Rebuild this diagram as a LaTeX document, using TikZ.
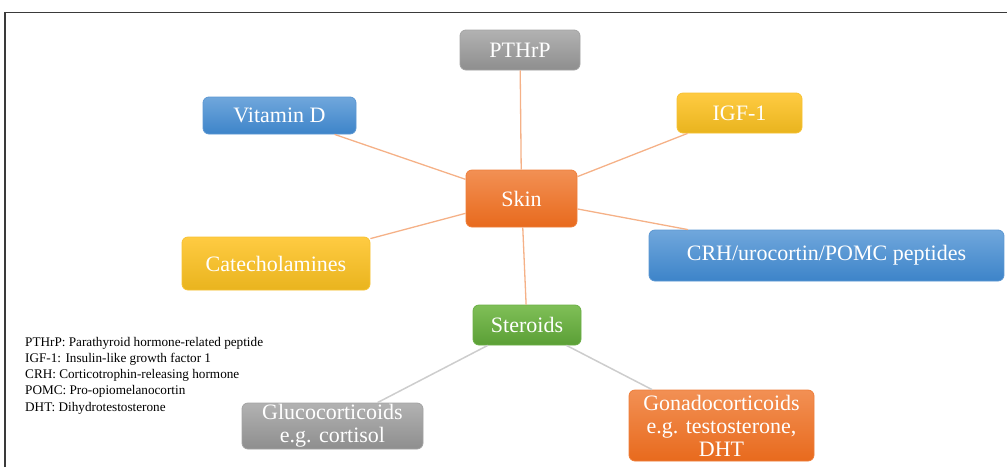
\documentclass[tikz,border=0pt]{standalone}
\usepackage{fontspec}
\setmainfont{Liberation Serif}
\newfontfamily\tnr{Liberation Serif}
\definecolor{blueT}{HTML}{70A7DC}
\definecolor{blueB}{HTML}{3D84C9}
\definecolor{blueD}{HTML}{5C97D2}
\definecolor{orangeT}{HTML}{F29054}
\definecolor{orangeB}{HTML}{E86A1D}
\definecolor{orangeD}{HTML}{EE7E3A}
\definecolor{yellowT}{HTML}{FFCB42}
\definecolor{yellowB}{HTML}{E9B41E}
\definecolor{yellowD}{HTML}{F7C233}
\definecolor{grayT}{HTML}{B2B2B2}
\definecolor{grayB}{HTML}{8E8E8E}
\definecolor{grayD}{HTML}{A3A3A3}
\definecolor{greenT}{HTML}{7FBF57}
\definecolor{greenB}{HTML}{5B9F36}
\definecolor{greenD}{HTML}{6BAF45}
\definecolor{lineO}{HTML}{F5B187}
\definecolor{lineG}{HTML}{CDCDCD}
\definecolor{frameC}{HTML}{3A3A3A}
\tikzset{
  box/.style={rounded corners=6pt, line width=0.8pt, text=white, inner sep=0pt, align=center,
    font=\tnr\fontsize{22}{23}\selectfont},
  bluebox/.style={box, draw=blueD, top color=blueT, bottom color=blueB},
  orangebox/.style={box, draw=orangeD, top color=orangeT, bottom color=orangeB},
  yellowbox/.style={box, draw=yellowD, top color=yellowT, bottom color=yellowB},
  graybox/.style={box, draw=grayD, top color=grayT, bottom color=grayB},
  greenbox/.style={box, draw=greenD, top color=greenT, bottom color=greenB},
  oline/.style={draw=lineO, line width=1.3pt},
  gline/.style={draw=lineG, line width=1.5pt},
  legend/.style={anchor=north west, align=left, inner sep=0pt, font=\tnr\fontsize{13.2}{16.2}\selectfont}
}
\begin{document}
\begin{tikzpicture}[x=1pt,y=-1pt]
\useasboundingbox (0,0) rectangle (1007,467);
\draw[frameC, line width=1.2pt] (5,467) -- (5,12.5) -- (1007,12.5);
\node[orangebox, minimum width=111pt, minimum height=57pt] (skin) at (521.5,198.5) {Skin};
\node[graybox, minimum width=120pt, minimum height=40pt] (pthrp) at (520,50) {PTHrP};
\node[bluebox, minimum width=153pt, minimum height=37pt] (vitd) at (279.5,115.5) {Vitamin D};
\node[yellowbox, minimum width=125pt, minimum height=40pt] (igf) at (739.5,113) {IGF-1};
\node[yellowbox, minimum width=188pt, minimum height=53pt] (cat) at (276,263.5) {Catecholamines};
\node[bluebox, minimum width=355pt, minimum height=51pt] (crh) at (826.5,255.5) {CRH/urocortin/POMC peptides};
\node[greenbox, minimum width=108pt, minimum height=40pt] (ster) at (527,325) {Steroids};
\node[graybox, minimum width=181pt, minimum height=46pt] (gluco) at (332.5,426) {Glucocorticoids\\e.g. cortisol};
\node[orangebox, minimum width=185pt, minimum height=71pt] (gonado) at (721.5,425.5) {Gonadocorticoids\\e.g. testosterone,\\DHT};
\path[oline] (skin) -- (pthrp);
\path[oline] (skin) -- (vitd);
\path[oline] (skin) -- (igf);
\path[oline] (skin) -- (cat);
\path[oline] (skin) -- (crh);
\path[oline] (skin) -- (ster);
\path[gline] (ster) -- (gluco);
\path[gline] (ster) -- (gonado);
\node[legend] (leg) at (25,337) {PTHrP: Parathyroid hormone-related peptide\\IGF-1: Insulin-like growth factor 1\\CRH: Corticotrophin-releasing hormone\\POMC: Pro-opiomelanocortin\\DHT: Dihydrotestosterone};
\end{tikzpicture}
\end{document}
